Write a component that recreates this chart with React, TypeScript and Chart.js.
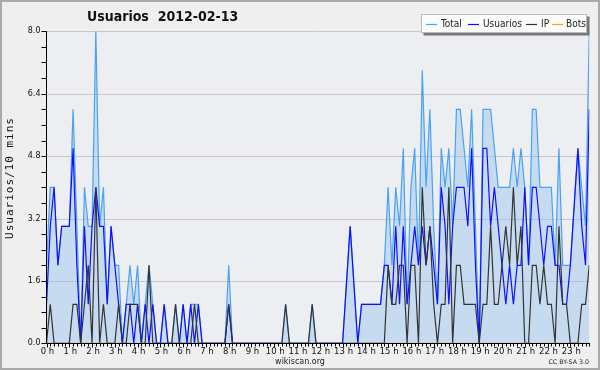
import React, { useEffect, useRef } from "react";
import { Chart, registerables } from "chart.js";

Chart.register(...registerables);

const TITLE = "Usuarios  2012-02-13";
const Y_TITLE = "Usuarios/10 mins";
const FOOTER = "wikiscan.org";
const LICENSE = "CC BY-SA 3.0";
const SERIES_NAMES = ["Total", "Usuarios", "IP", "Bots"];
const HOUR_LABELS = [
  "0 h", "1 h", "2 h", "3 h", "4 h", "5 h", "6 h", "7 h", "8 h", "9 h", "10 h", "11 h",
  "12 h", "13 h", "14 h", "15 h", "16 h", "17 h", "18 h", "19 h", "20 h", "21 h", "22 h", "23 h",
];
const Y_TICKS = [0, 1.6, 3.2, 4.8, 6.4, 8.0];
const Y_MINOR_STEP = 0.4;
const Y_MAX = 8;
const SLOTS_PER_HOUR = 6;

// one value per 10-minute slot (144 slots)
const TOTAL = [
  2, 4, 4, 2, 3, 3, 3, 6, 3, 0, 4, 3, 3, 8, 3, 4, 1, 3, 2, 2, 0, 1, 2, 1,
  2, 0, 1, 2, 1, 0, 0, 1, 0, 0, 1, 0, 1, 0, 1, 1, 1, 0, 0, 0, 0, 0, 0, 0,
  2, 0, 0, 0, 0, 0, 0, 0, 0, 0, 0, 0, 0, 0, 0, 1, 0, 0, 0, 0, 0, 0, 1, 0,
  0, 0, 0, 0, 0, 0, 0, 1.5, 3, 1.5, 0, 1, 1, 1, 1, 1, 1, 2, 4, 2, 4, 3, 5, 1,
  4, 5, 2, 7, 4, 6, 3, 1, 5, 4, 5, 3, 6, 6, 5, 4, 6, 3, 0, 6, 6, 6, 5, 4,
  4, 4, 4, 5, 4, 5, 4, 2, 6, 6, 4, 4, 4, 4, 2, 5, 2, 2, 2, 3.5, 5, 4, 3, 8,
];
const USUARIOS = [
  1, 3, 4, 2, 3, 3, 3, 5, 2, 0, 3, 1, 3, 4, 3, 3, 1, 3, 2, 1, 0, 1, 1, 0,
  1, 0, 1, 0, 1, 0, 0, 1, 0, 0, 0, 0, 1, 0, 1, 0, 1, 0, 0, 0, 0, 0, 0, 0,
  1, 0, 0, 0, 0, 0, 0, 0, 0, 0, 0, 0, 0, 0, 0, 0, 0, 0, 0, 0, 0, 0, 0, 0,
  0, 0, 0, 0, 0, 0, 0, 1.5, 3, 1.5, 0, 1, 1, 1, 1, 1, 1, 2, 2, 1, 3, 1, 3, 1,
  2, 3, 2, 3, 2, 3, 2, 1, 4, 3, 1, 3, 4, 4, 4, 3, 5, 2, 0, 5, 5, 3, 4, 3,
  2, 1, 2, 1, 2, 2, 4, 2, 4, 4, 3, 2, 3, 3, 2, 2, 1, 1, 2, 3.5, 5, 3, 2, 6,
];
const IP = [
  0, 1, 0, 0, 0, 0, 0, 1, 1, 0, 1, 2, 0, 4, 0, 1, 0, 0, 0, 1, 0, 0, 1, 1,
  1, 0, 0, 2, 0, 0, 0, 0, 0, 0, 1, 0, 0, 0, 0, 1, 0, 0, 0, 0, 0, 0, 0, 0,
  1, 0, 0, 0, 0, 0, 0, 0, 0, 0, 0, 0, 0, 0, 0, 1, 0, 0, 0, 0, 0, 0, 1, 0,
  0, 0, 0, 0, 0, 0, 0, 0, 0, 0, 0, 0, 0, 0, 0, 0, 0, 0, 2, 1, 1, 2, 2, 0,
  2, 2, 0, 4, 2, 3, 1, 0, 1, 1, 4, 0, 2, 2, 1, 1, 1, 1, 0, 1, 1, 3, 1, 1,
  2, 3, 2, 4, 2, 3, 0, 0, 2, 2, 1, 2, 1, 1, 0, 3, 1, 1, 0, 0, 0, 1, 1, 2,
];
const BOTS = [
  0, 0, 0, 0, 0, 0, 0, 0, 0, 0, 0, 0, 0, 0, 0, 0, 0, 0, 0, 0, 0, 0, 0, 0,
  0, 0, 0, 0, 0, 0, 0, 0, 0, 0, 0, 0, 0, 0, 0, 0, 0, 0, 0, 0, 0, 0, 0, 0,
  0, 0, 0, 0, 0, 0, 0, 0, 0, 0, 0, 0, 0, 0, 0, 0, 0, 0, 0, 0, 0, 0, 0, 0,
  0, 0, 0, 0, 0, 0, 0, 0, 0, 0, 0, 0, 0, 0, 0, 0, 0, 0, 0, 0, 0, 0, 0, 0,
  0, 0, 0, 0, 0, 0, 0, 0, 0, 0, 0, 0, 0, 0, 0, 0, 0, 0, 0, 0, 0, 0, 0, 0,
  0, 0, 0, 0, 0, 0, 0, 0, 0, 0, 0, 0, 0, 0, 0, 0, 0, 0, 0, 0, 0, 0, 0, 0,
];

const C_TOTAL = "#4aa2f2";
const C_FILL = "rgba(130,185,235,0.36)";
const C_USERS = "#0f0fff";
const C_IP = "#333333";
const C_BOTS = "#ffa31a";
const SERIES_COLORS = [C_TOTAL, C_USERS, C_IP, C_BOTS];

const SANS = "'DejaVu Sans', 'Liberation Sans', sans-serif";
const SANS_COND = "'DejaVu Sans Condensed', 'DejaVu Sans', sans-serif";
const MONO = "'DejaVu Sans Mono', 'Liberation Mono', monospace";

const decor = {
  id: "decor",
  beforeDraw(chart: any) {
    const { ctx, chartArea: a, width, height } = chart;
    const y = chart.scales.y;
    ctx.save();
    ctx.fillStyle = "#efefef";
    ctx.fillRect(0, 0, width, height);
    ctx.fillStyle = "#eceef1";
    ctx.fillRect(a.left, a.top, a.right - a.left, a.bottom - a.top);
    ctx.strokeStyle = "#c8c8c8";
    ctx.lineWidth = 1;
    for (const t of Y_TICKS) {
      if (t === 0) continue;
      const py = Math.round(y.getPixelForValue(t)) + 0.5;
      ctx.beginPath();
      ctx.moveTo(a.left, py);
      ctx.lineTo(a.right, py);
      ctx.stroke();
    }
    ctx.restore();
  },
  afterDatasetsDraw(chart: any) {
    const { ctx, chartArea: a } = chart;
    const x = chart.scales.x;
    const y = chart.scales.y;
    ctx.save();
    const ax = Math.round(a.left) - 0.5;
    const by = Math.round(a.bottom) + 0.5;
    ctx.strokeStyle = "#000";
    ctx.lineWidth = 1;
    ctx.beginPath();
    ctx.moveTo(ax, Math.round(a.top));
    ctx.lineTo(ax, by);
    ctx.lineTo(Math.round(a.right) + 1, by);
    ctx.stroke();
    // y ticks
    ctx.beginPath();
    for (let v = 0; v <= Y_MAX + 1e-6; v += Y_MINOR_STEP) {
      const py = Math.round(y.getPixelForValue(v)) + 0.5;
      ctx.moveTo(ax - 5, py);
      ctx.lineTo(ax, py);
    }
    ctx.stroke();
    ctx.fillStyle = "#111";
    ctx.font = `8px ${SANS}`;
    ctx.textAlign = "right";
    ctx.textBaseline = "middle";
    for (const t of Y_TICKS) {
      ctx.fillText(t.toFixed(1), ax - 6, y.getPixelForValue(t));
    }
    // x ticks
    ctx.beginPath();
    const nSlots = TOTAL.length;
    for (let i = 0; i < nSlots; i++) {
      const px = Math.round(x.getPixelForValue(i)) + 0.5;
      const len = i % SLOTS_PER_HOUR === 0 ? 4 : 3;
      ctx.moveTo(px, by);
      ctx.lineTo(px, by + len);
    }
    ctx.stroke();
    ctx.textAlign = "center";
    ctx.font = `8.5px ${SANS}`;
    HOUR_LABELS.forEach((lab, h) => {
      ctx.fillText(lab, x.getPixelForValue(h * SLOTS_PER_HOUR) + 1, 351.5);
    });
    ctx.restore();
  },
  afterDraw(chart: any) {
    const { ctx, width, height } = chart;
    ctx.save();
    // title
    ctx.fillStyle = "#111";
    ctx.font = `bold 14px ${SANS_COND}`;
    ctx.textAlign = "left";
    ctx.textBaseline = "middle";
    ctx.fillText(TITLE, 87, 17, 160);
    // y title
    ctx.save();
    ctx.translate(10, 178);
    ctx.rotate(-Math.PI / 2);
    ctx.font = `11px ${MONO}`;
    (ctx as any).letterSpacing = "1px";
    ctx.textAlign = "center";
    ctx.fillText(Y_TITLE, 0, 0);
    ctx.restore();
    // footer texts
    ctx.fillStyle = "#222";
    ctx.font = `8px ${SANS}`;
    ctx.textAlign = "center";
    ctx.fillText(FOOTER, 300, 361.5);
    ctx.font = `6.3px ${SANS}`;
    ctx.textAlign = "right";
    ctx.fillText(LICENSE, 589, 362.5);
    // legend
    const lx = 421.5, ly = 14.5, lw = 165, lh = 18;
    ctx.fillStyle = "#777";
    ctx.fillRect(lx + 2, ly + 2, lw + 1, lh + 1);
    ctx.fillStyle = "#fbfbfb";
    ctx.fillRect(lx, ly, lw, lh);
    ctx.strokeStyle = "#bbb";
    ctx.lineWidth = 1;
    ctx.strokeRect(lx, ly, lw, lh);
    const lineX = [426, 468, 526, 552];
    const textX = [441, 483, 541, 566];
    const textW = [24, 41, 9, 20];
    const cy = ly + lh / 2;
    ctx.font = `10px ${SANS_COND}`;
    ctx.textAlign = "left";
    ctx.textBaseline = "middle";
    SERIES_NAMES.forEach((name, k) => {
      ctx.strokeStyle = SERIES_COLORS[k];
      ctx.lineWidth = 1.2;
      ctx.beginPath();
      ctx.moveTo(lineX[k], Math.round(cy) + 0.5);
      ctx.lineTo(lineX[k] + 11, Math.round(cy) + 0.5);
      ctx.stroke();
      ctx.fillStyle = "#222";
      ctx.fillText(name, textX[k], cy + 0.5, textW[k]);
    });
    // outer border
    ctx.strokeStyle = "#aaaaaa";
    ctx.lineWidth = 2;
    ctx.strokeRect(1, 1, width - 2, height - 2);
    ctx.restore();
  },
};

export default function App() {
  const ref = useRef<HTMLCanvasElement>(null);
  useEffect(() => {
    const canvas = ref.current;
    if (!canvas) return;
    const pts = (arr: number[]) => arr.map((v, i) => ({ x: i, y: v }));
    const chart = new Chart(canvas, {
      type: "line",
      data: {
        datasets: [
          { label: SERIES_NAMES[0], data: pts(TOTAL), borderColor: C_TOTAL, backgroundColor: C_FILL, fill: "origin", borderWidth: 1.2, order: 4 },
          { label: SERIES_NAMES[1], data: pts(USUARIOS), borderColor: C_USERS, borderWidth: 1.2, fill: false, order: 2 },
          { label: SERIES_NAMES[2], data: pts(IP), borderColor: C_IP, borderWidth: 1.2, fill: false, order: 1 },
          { label: SERIES_NAMES[3], data: pts(BOTS), borderColor: C_BOTS, borderWidth: 1, fill: false, order: 5 },
        ],
      } as any,
      options: {
        animation: false,
        responsive: false,
        maintainAspectRatio: false,
        devicePixelRatio: 1,
        layout: { padding: { left: 46.5, right: 10.7, top: 31.3, bottom: 26.7 } },
        elements: { point: { radius: 0 }, line: { tension: 0 } },
        scales: {
          x: { type: "linear", min: 0, max: TOTAL.length - 1, display: false },
          y: { type: "linear", min: 0, max: Y_MAX, display: false },
        },
        plugins: { legend: { display: false }, tooltip: { enabled: false }, title: { display: false } },
      } as any,
      plugins: [decor],
    });
    return () => chart.destroy();
  }, []);
  return (
    <div style={{ position: "fixed", left: 0, top: 0, width: 600, height: 370 }}>
      <canvas ref={ref} width={600} height={370} style={{ display: "block", width: 600, height: 370 }} />
    </div>
  );
}
